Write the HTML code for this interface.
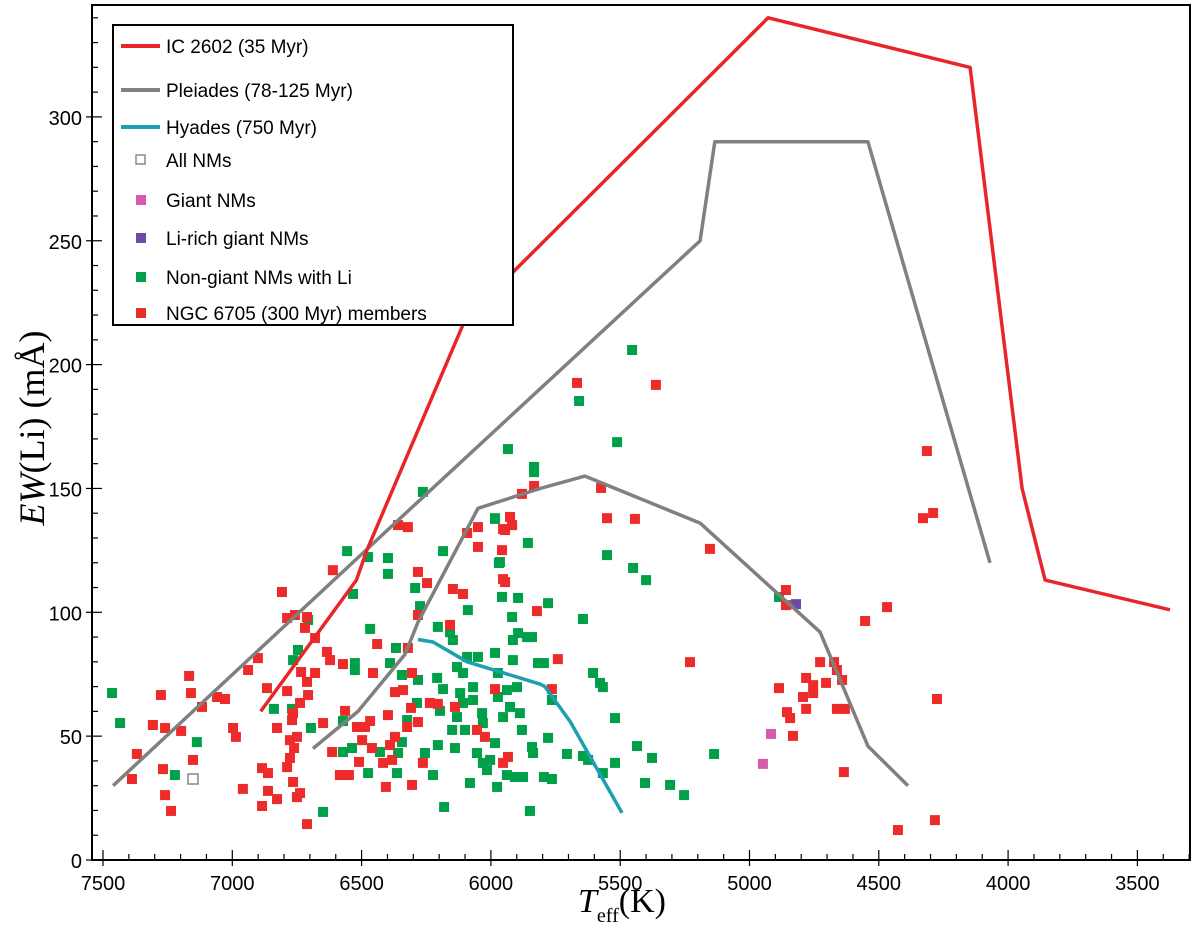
<!DOCTYPE html>
<html><head><meta charset="utf-8"><style>
html,body{margin:0;padding:0;background:#fff}
svg text{font-family:"Liberation Sans",Arial,sans-serif}
</style></head><body>
<svg id="chart" width="1200" height="931" viewBox="0 0 1200 931" xmlns="http://www.w3.org/2000/svg">
<g id="marks"></g>
<g id="axes"></g>
<text transform="translate(44,428) rotate(-90)" text-anchor="middle" style="font-family:'Liberation Serif',serif;font-size:36px"><tspan font-style="italic">EW</tspan>(Li) (mÅ)</text>
<text x="578" y="912" style="font-family:'Liberation Serif',serif;font-size:34px"><tspan font-style="italic">T</tspan><tspan font-size="20" dy="10">eff</tspan><tspan dy="-10">(K)</tspan></text>
<g>
<rect x="113" y="25" width="400" height="300" fill="#fff" stroke="#000" stroke-width="2"/>
<line x1="121" y1="46" x2="160" y2="46" stroke="#e8262a" stroke-width="4"/>
<text x="166" y="53" font-size="19">IC 2602 (35 Myr)</text>
<line x1="121" y1="90" x2="160" y2="90" stroke="#808080" stroke-width="4"/>
<text x="166" y="97" font-size="19">Pleiades (78-125 Myr)</text>
<line x1="121" y1="127" x2="160" y2="127" stroke="#1aa0b0" stroke-width="4"/>
<text x="166" y="134" font-size="19">Hyades (750 Myr)</text>
<rect x="136" y="155" width="9" height="9" fill="none" stroke="#888" stroke-width="1.5"/>
<text x="166" y="167" font-size="19">All NMs</text>
<rect x="136" y="195" width="10" height="10" fill="#d65aad"/>
<text x="166" y="207" font-size="19">Giant NMs</text>
<rect x="136" y="233" width="10" height="10" fill="#6a4ba6"/>
<text x="166" y="245" font-size="19">Li-rich giant NMs</text>
<rect x="136" y="272" width="10" height="10" fill="#00a04a"/>
<text x="166" y="284" font-size="19">Non-giant NMs with Li</text>
<rect x="136" y="308" width="10" height="10" fill="#ee2b2b"/>
<text x="166" y="320" font-size="19">NGC 6705 (300 Myr) members</text>
</g>
</svg>
<script>
const xTicks=[7500,7000,6500,6000,5500,5000,4500,4000,3500];
const yTicks=[0,50,100,150,200,250,300];
const ic2602T=[6890,6520,6480,6100,4928,4147,3946,3857,3374];
const ic2602EW=[60,113,125,218,340,320,150,113,101];
const pleiadesUpT=[7461,6371,5191,5134,4542,4070];
const pleiadesUpEW=[30,136,250,290,290,120];
const pleiadesLoT=[6688,6514,6332,6282,6050,5810,5636,5191,4727,4542,4387];
const pleiadesLoEW=[45,60,83,96,142,150,155,136,92,46,30];
const hyadesT=[6282,6224,6092,5810,5791,5694,5493];
const hyadesEW=[89,88,80,71,70,56,19];
const redT=[7388,7369,7307,7276,7260,7268,7260,7237,7198,7167,7160,7152,7117,7059,7028,6997,6986,6959,6939,6901,6885,6866,6862,6885,6862,6827,6827,6808,6788,6788,6758,6711,6719,6680,6734,6711,6707,6680,6738,6765,6769,6777,6750,6761,6777,6788,6765,6738,6750,6711,6649,6634,6622,6614,6611,6572,6564,6584,6549,6518,6510,6498,6487,6467,6460,6456,6440,6417,6406,6398,6390,6382,6371,6359,6321,6371,6340,6324,6321,6309,6305,6305,6282,6282,6282,6263,6247,6236,6205,6158,6147,6108,6139,6092,6050,6050,6054,6023,5984,5957,5945,5926,5918,5945,5934,5953,5822,5833,5880,5953,5953,5741,5667,5362,5574,5551,5443,5153,5764,5230,4314,4329,4290,4859,4859,4553,4468,4727,4673,4662,4642,4704,4781,4754,4754,4793,4886,4855,4843,4781,4662,4631,4832,4635,4275,4283,4426];
const redEW=[32.7,42.8,54.5,66.6,53.3,36.7,26.2,19.8,52.1,74.3,67.4,40.4,61.8,65.8,65,53.3,49.7,28.7,76.7,81.5,37.1,69.4,35.1,21.8,27.9,53.3,24.6,108.2,68.2,97.7,98.9,98.1,93.7,89.6,75.9,71.9,66.6,75.5,63.4,59.3,56.5,48.4,49.7,45.2,41.2,37.5,31.5,27,25.4,14.5,55.3,84,80.7,43.6,117,79.1,60.2,34.3,34.3,53.7,39.6,48.4,53.7,56.1,45.2,75.5,87.2,39.2,29.5,58.5,46.4,40.4,49.7,135.2,134.4,67.8,68.6,53.7,85.6,61.4,75.5,30.3,116.3,98.9,55.7,39.2,111.8,63.4,63,94.9,109.4,107.4,61.8,132,134.4,126.4,52.5,49.7,69,125.1,133.2,138.5,135.2,112.2,41.6,39.2,100.5,151,147.8,133.6,113.4,81.1,192.6,191.8,150.2,138,137.7,125.6,69,79.9,165.1,138,140.1,109,102.9,96.5,102.1,79.9,79.9,76.7,72.7,71.5,73.5,70.6,67.4,65.8,69.4,59.7,57.3,61,61,61,50.1,35.5,65,16.1,12.1];
const greenT=[7465,7434,7137,7222,6839,6769,6765,6746,6696,6707,6649,6572,6572,6537,6556,6475,6533,6526,6526,6475,6467,6429,6398,6398,6390,6367,6344,6344,6359,6363,6324,6293,6274,6282,6286,6255,6224,6208,6205,6197,6185,6205,6185,6181,6158,6150,6147,6139,6131,6131,6119,6108,6108,6100,6092,6089,6081,6069,6069,6054,6050,6034,6031,6031,6015,6003,5984,5984,5976,5973,5973,5984,5965,5957,5953,5938,5938,5926,5918,5915,5915,5907,5899,5895,5895,5888,5880,5876,5860,5857,5849,5841,5837,5818,5934,5833,5833,6263,5984,5969,5779,5454,5659,5512,5551,5450,5400,5644,5841,5795,5605,5578,5567,5764,5520,5779,5706,5644,5624,5520,5435,5377,5137,5795,5764,5567,5404,5307,5253,4886];
const greenEW=[67.4,55.3,47.6,34.3,61,61,80.7,84.8,53.3,96.9,19.4,56.1,43.6,45.2,124.7,122.3,107.4,79.5,76.7,35.1,93.3,43.6,121.9,115.5,79.5,85.6,74.7,47.6,43.2,35.1,56.5,109.8,102.5,72.7,63.4,43.2,34.3,73.5,46.4,60.2,69,94.1,124.7,21.4,92,52.5,88.8,45.2,77.9,57.7,67.4,75.5,63.4,52.5,82,100.9,31.1,69.8,64.6,43.2,82,59.3,55.3,39.2,36.3,40.4,83.6,47.2,29.5,75.5,65.8,138,120.3,106.2,57.7,68.6,34.3,61.8,98.1,80.7,88.8,33.5,69.8,105.8,91.6,59.3,52.5,33.5,90,128,19.8,45.6,43.2,79.5,165.9,158.7,156.6,148.6,137.7,119.9,103.7,205.9,185.3,168.7,123.1,117.9,113,97.3,90,79.5,75.5,71.5,69.8,64.6,57.3,49.3,42.8,42,40.4,39.2,46,41.2,42.8,33.5,32.7,35.1,31.1,30.3,26.2,106.2];
const giantT=[4917,4948];
const giantEW=[50.9,38.8];
const liRichT=[4820];
const liRichEW=[103.3];
const allNMT=[7152];
const allNMEW=[32.7];

const L=92,R=1190,T0=5,B=860;
function xs(t){return 103+(7500-t)*0.2586;}
function ys(v){return 860-v*2.477;}
const NS="http://www.w3.org/2000/svg";
const marks=document.getElementById('marks');
const axes=document.getElementById('axes');
function mk(tag,attrs,parent){const e=document.createElementNS(NS,tag);for(const k in attrs)e.setAttribute(k,attrs[k]);parent.appendChild(e);return e;}

function drawSquares(ts,vs,fill,name,hollow){
  for(let i=0;i<ts.length;i++){
    const r=mk('rect',{x:xs(ts[i])-5,y:ys(vs[i])-5,width:10,height:10,fill:hollow?'none':fill,stroke:hollow?'#888':'none','stroke-width':hollow?1.5:0},marks);
    
    
  }
}
drawSquares(greenT,greenEW,'#00a04a','non-giant-li-point',false);
drawSquares(redT,redEW,'#ee2b2b','ngc6705-member-point',false);
drawSquares(giantT,giantEW,'#d65aad','giant-nm-point',false);
drawSquares(liRichT,liRichEW,'#6a4ba6','li-rich-giant-point',false);
drawSquares(allNMT,allNMEW,'#888','all-nm-point',true);

function drawLine(ts,vs,color,name){
  const d=ts.map((t,i)=>(i?'L':'M')+xs(t).toFixed(1)+','+ys(vs[i]).toFixed(1)).join(' ');
  const p=mk('path',{d:d,fill:'none',stroke:color,'stroke-width':3.5,'stroke-linejoin':'round'},marks);
  
  
}
drawLine(pleiadesUpT,pleiadesUpEW,'#808080','pleiades-upper-line');
drawLine(pleiadesLoT,pleiadesLoEW,'#808080','pleiades-lower-line');
drawLine(hyadesT,hyadesEW,'#1aa0b0','hyades-line');
drawLine(ic2602T,ic2602EW,'#e8262a','ic2602-line');

const fr=mk('rect',{x:L,y:T0,width:R-L,height:B-T0,fill:'none',stroke:'#000','stroke-width':2},axes);


for(let t=7500;t>=3300;t-=100){
  const x=xs(t);const major=(t%500===0);
  mk('line',{x1:x,y1:B,x2:x,y2:B-(major?10:6),stroke:'#000','stroke-width':1.2},axes);
  if(major) mk('line',{x1:x,y1:B,x2:x,y2:B+6,stroke:'#000','stroke-width':1.2},axes);
}
xTicks.forEach(t=>{
  const e=mk('text',{x:xs(t),y:B+30,'text-anchor':'middle','font-size':20},axes);
  e.textContent=t;
  
  
});
for(let v=0;v<=340;v+=10){
  const y=ys(v);const major=(v%50===0);
  mk('line',{x1:L,y1:y,x2:L+(major?10:6),y2:y,stroke:'#000','stroke-width':1.2},axes);
  if(major) mk('line',{x1:L,y1:y,x2:L-6,y2:y,stroke:'#000','stroke-width':1.2},axes);
}
yTicks.forEach(v=>{
  const e=mk('text',{x:L-10,y:ys(v)+8,'text-anchor':'end','font-size':20},axes);
  e.textContent=v;
  
  
});
</script>
</body></html>
